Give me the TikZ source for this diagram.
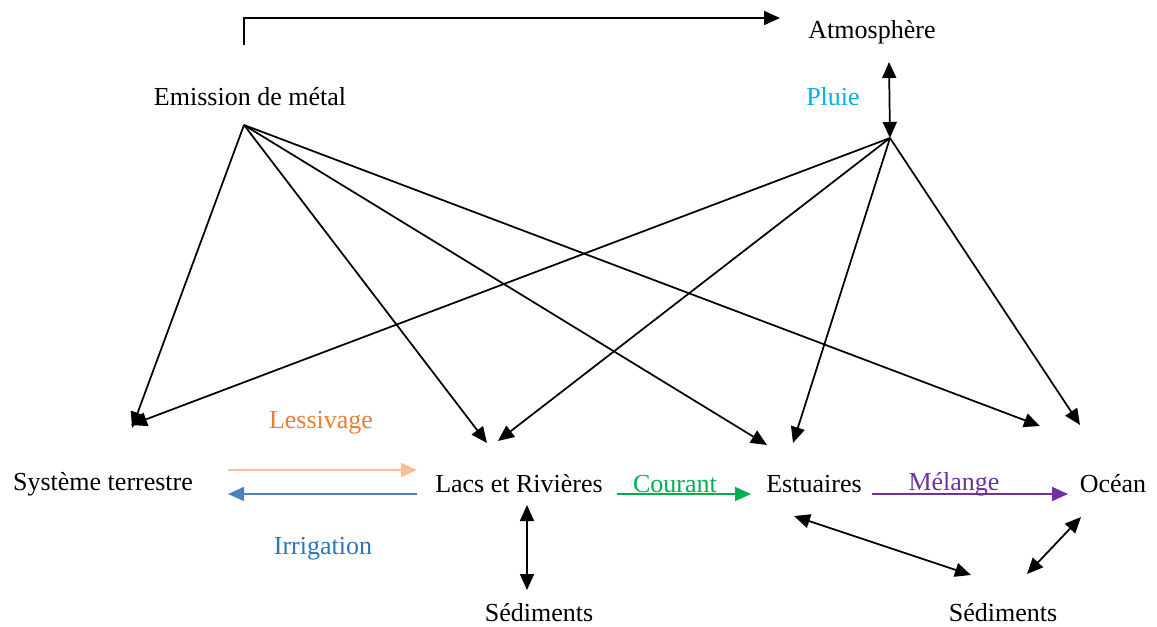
\documentclass[tikz,border=0pt]{standalone}
\usepackage{fontspec}
\setmainfont{Liberation Serif}
\usetikzlibrary{arrows.meta}
\definecolor{pluiec}{RGB}{0,176,240}
\definecolor{lessc}{RGB}{237,125,49}
\definecolor{lessa}{RGB}{248,190,150}
\definecolor{irrc}{RGB}{46,117,182}
\definecolor{irra}{RGB}{79,129,189}
\definecolor{courc}{RGB}{0,176,80}
\definecolor{melc}{RGB}{112,48,160}
\tikzset{
  lbl/.style={inner sep=0pt, font=\fontsize{19.5}{22}\selectfont},
  arr/.style={line width=1.3pt, -{Triangle[length=12pt,width=10.5pt]}},
  darr/.style={line width=1.3pt, {Triangle[length=12pt,width=10.5pt]}-{Triangle[length=12pt,width=10.5pt]}},
}
\begin{document}
\begin{tikzpicture}[x=0.75pt,y=-0.75pt]
\useasboundingbox (0,0) rectangle (1157,626);
% nodes
\node[lbl] (atm) at (872,32) {Atmosphère};
\node[lbl] (emi) at (250,97) {Emission de métal};
\node[lbl,text=pluiec] (pluie) at (833,97) {Pluie};
\node[lbl] (sys) at (103,484) {Système terrestre};
\node[lbl] (lacs) at (519,484) {Lacs et Rivières};
\node[lbl] (est) at (814,484) {Estuaires};
\node[lbl] (ocean) at (1113,484) {Océan};
\node[lbl] (sed1) at (539,613) {Sédiments};
\node[lbl] (sed2) at (1003,613) {Sédiments};
\node[lbl,text=lessc] (less) at (321,423) {Lessivage};
\node[lbl,text=irrc] (irr) at (323,549) {Irrigation};
\node[lbl,text=courc] (cour) at (675,484) {Courant};
\node[lbl,text=melc] (mel) at (954,484) {Mélange};
% coordinates
\coordinate (emTop) at (244,45);
\coordinate (emCorner) at (244,18);
\coordinate (atmIn) at (780,18);
\coordinate (emO) at (244,125);
\coordinate (plO) at (890,138);
\coordinate (atmB) at (889,62);
\coordinate (sysA) at (132,428);
\coordinate (sysB) at (131,425);
\coordinate (lacsA) at (487,443);
\coordinate (lacsB) at (498,441);
\coordinate (estA) at (767,445);
\coordinate (estB) at (793,443);
\coordinate (ocA) at (1040,426);
\coordinate (ocB) at (1080,425);
\coordinate (lessS) at (228,470);
\coordinate (lessE) at (417,470);
\coordinate (irrS) at (417,494);
\coordinate (irrE) at (228,494);
\coordinate (courS) at (617,494);
\coordinate (courE) at (751,494);
\coordinate (melS) at (872,494);
\coordinate (melE) at (1068,494);
\coordinate (lacsD) at (527,505);
\coordinate (sed1U) at (527,590);
\coordinate (estD) at (794,516);
\coordinate (sed2L) at (971,575);
\coordinate (ocD) at (1081,517);
\coordinate (sed2R) at (1027,574);
% connectors
\draw[arr] (emTop) -- (emCorner) -- (atmIn);
\draw[darr] (atmB) -- (plO);
\foreach \t in {sysA,lacsA,estA,ocA} \draw[arr] (emO) -- (\t);
\foreach \t in {sysB,lacsB,estB,ocB} \draw[arr] (plO) -- (\t);
\draw[arr,draw=lessa,-{Triangle[length=12pt,width=10.5pt,fill=lessa]}] (lessS) -- (lessE);
\draw[arr,draw=irra] (irrS) -- (irrE);
\draw[arr,draw=courc] (courS) -- (courE);
\draw[arr,draw=melc] (melS) -- (melE);
\draw[darr] (lacsD) -- (sed1U);
\draw[darr] (estD) -- (sed2L);
\draw[darr] (ocD) -- (sed2R);
\end{tikzpicture}
\end{document}
